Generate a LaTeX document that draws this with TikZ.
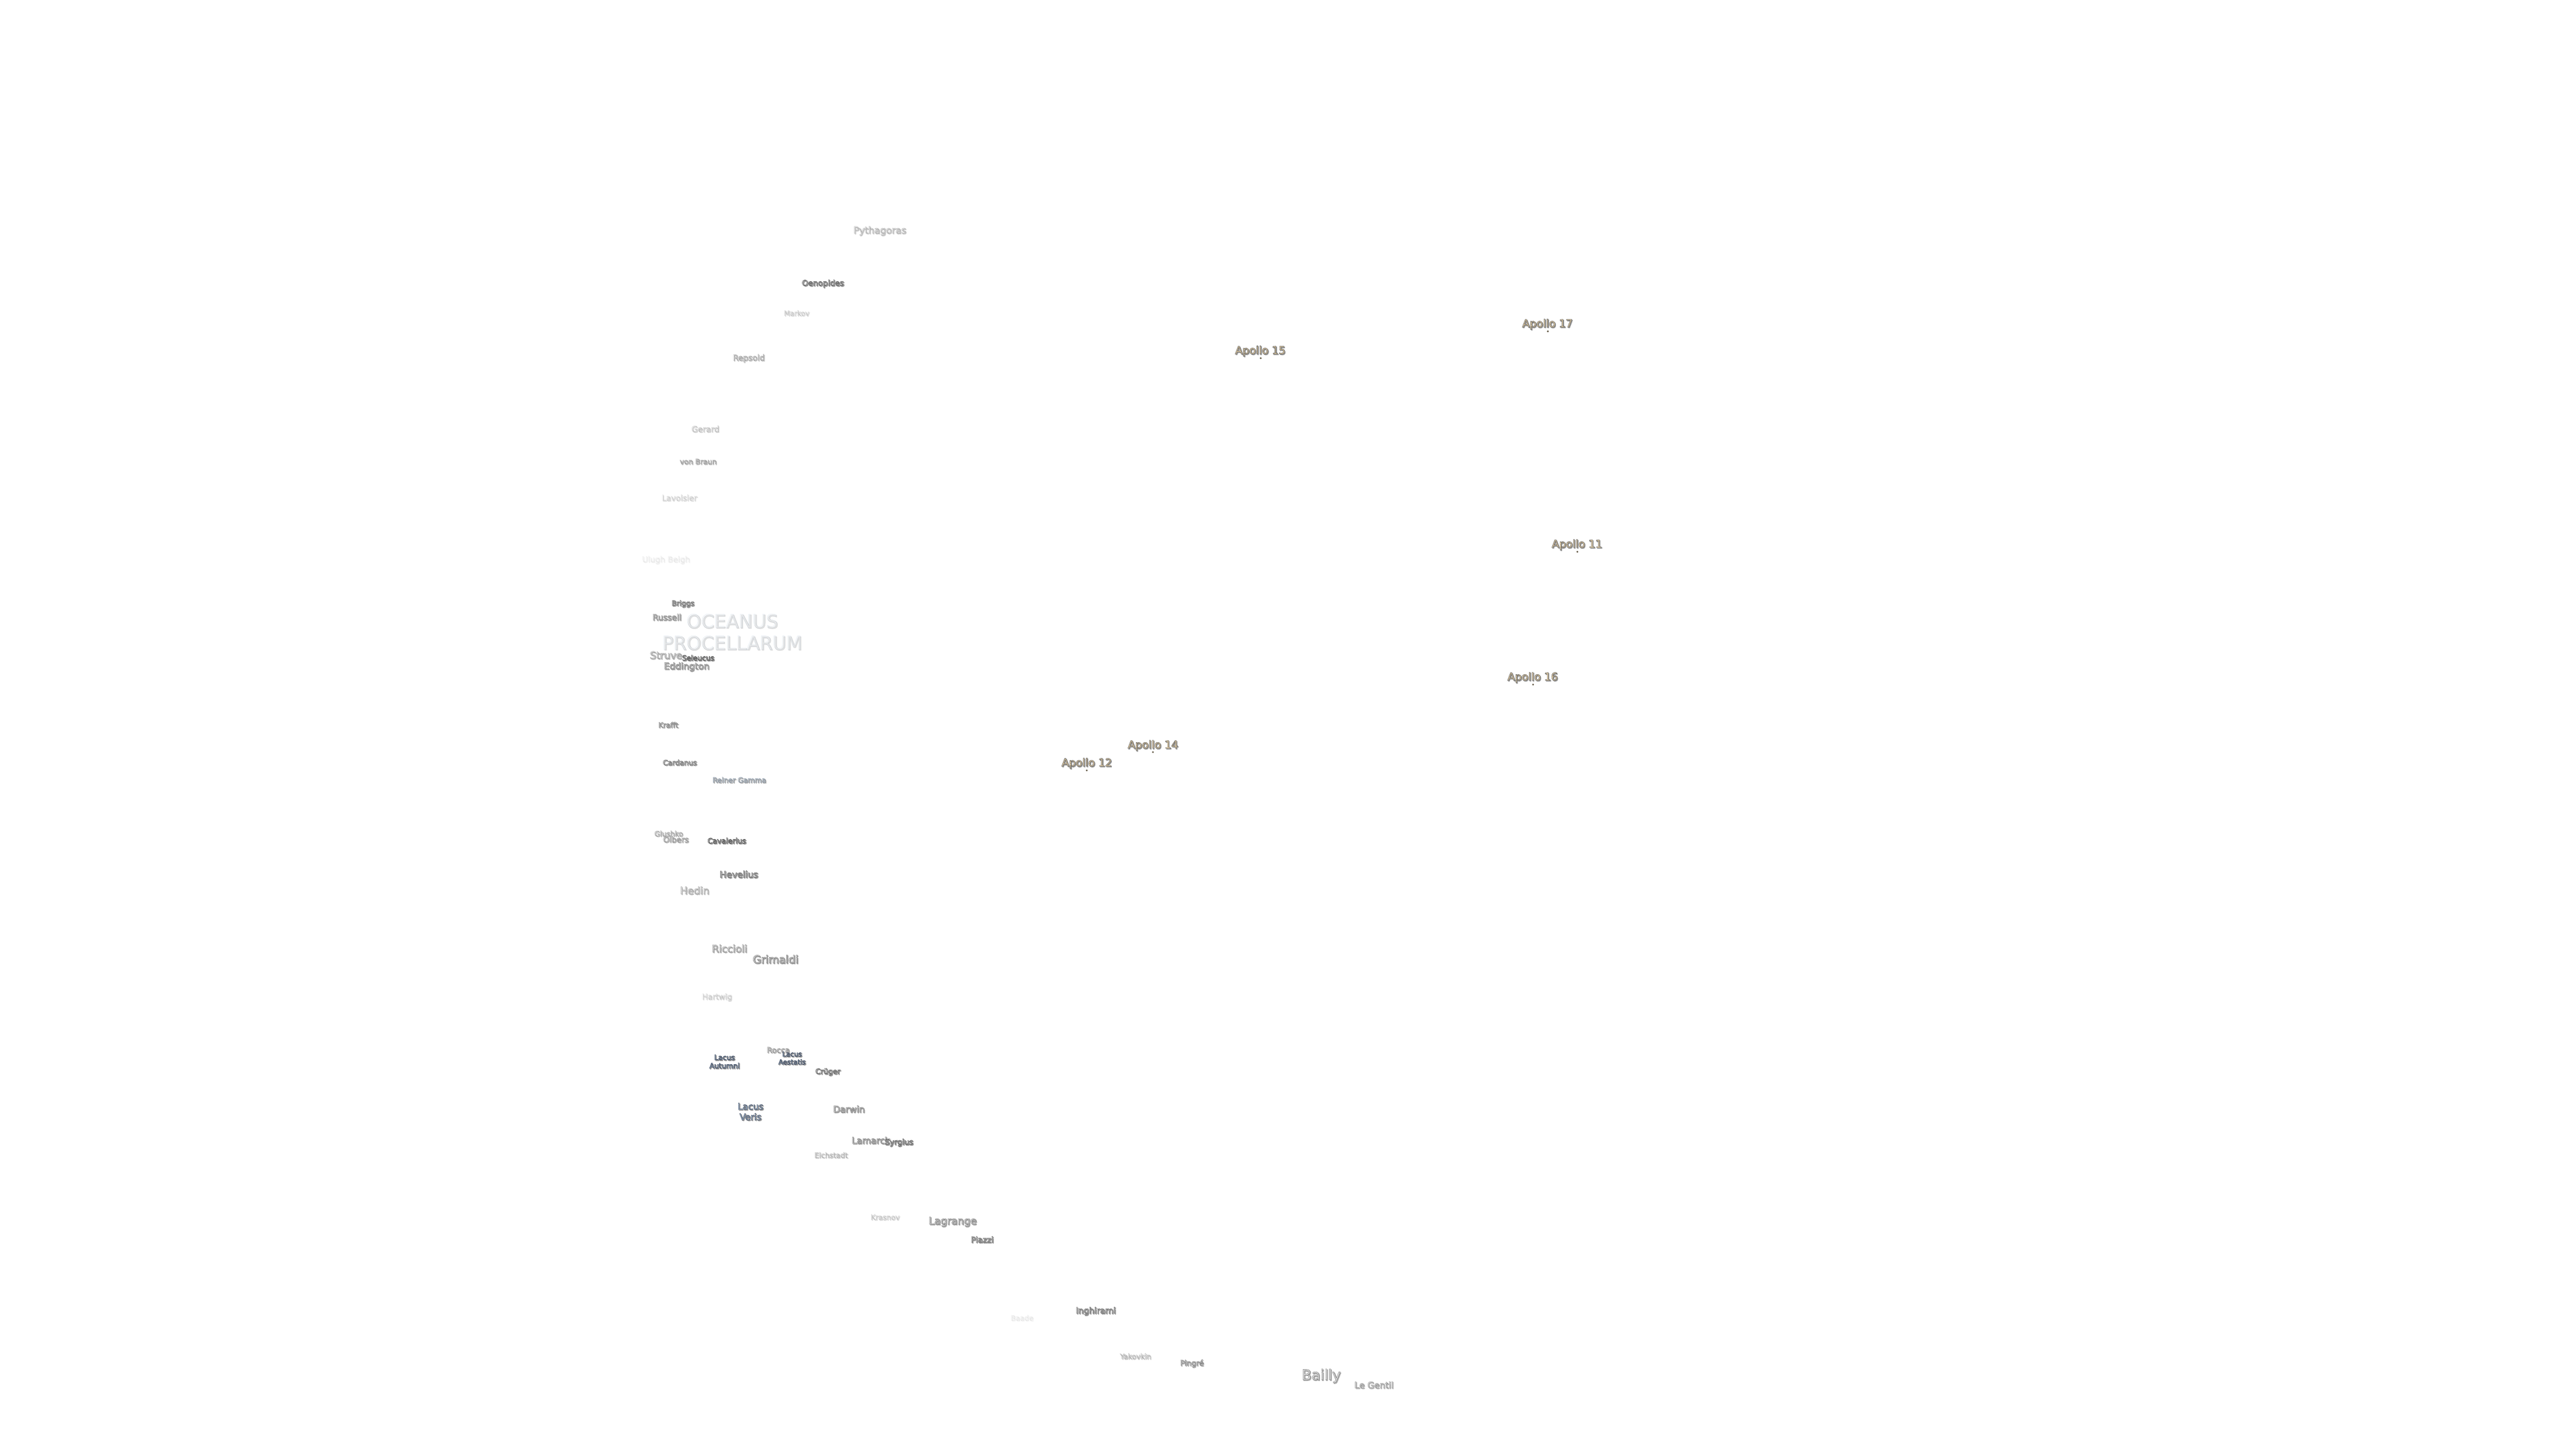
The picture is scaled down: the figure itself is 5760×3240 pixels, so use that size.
\documentclass[tikz,border=0pt]{standalone}
\usepackage{fontspec}
\setmainfont{DejaVu Sans}
\definecolor{craterfill}{RGB}{240,240,240}
\definecolor{lakefill}{RGB}{190,215,240}
\definecolor{sitefill}{RGB}{250,224,176}
\definecolor{marefill}{RGB}{246,248,250}
\definecolor{shadowgray}{RGB}{150,150,150}
% text with a dark edge and a soft offset copy
\newcommand{\relief}[2][0.35 0.35 0.35]{\leavevmode\rlap{\kern0.45pt\raisebox{-0.45pt}{\special{pdf:code 2 Tr 0.28 w 0.65 0.65 0.65 RG}\textcolor{shadowgray}{#2}\special{pdf:code 0 Tr}}}\special{pdf:code 2 Tr 0.2 w #1 RG}#2\special{pdf:code 0 Tr}}
\tikzset{
  fs/.style={font=\fontsize{#1pt}{1.17\dimexpr#1pt\relax}\selectfont},
  crater/.style={inner sep=0pt,align=center,text=craterfill},
  lake/.style={crater,text=lakefill},
  apollosite/.style={crater,text=sitefill,fs=6},
  mare/.style={crater,text=marefill,fs=10.4},
  sitedot/.style={circle,inner sep=0pt,minimum size=1.1pt,fill=black!60!sitefill},
}
\begin{document}
\begin{tikzpicture}[x=0.25pt,y=0.25pt,yscale=-1,xscale=1]
\useasboundingbox (0,0) rectangle (5760,3240);

% Mare
\node (procellarum) [mare,opacity=0.25] at (1637,1414) {\relief[0.6 0.7 0.8]{OCEANUS}\\\relief[0.6 0.7 0.8]{PROCELLARUM}};

% Apollo sites
\node (apollo17) [apollosite] at (3460,726) {\relief{Apollo 17}};
\node (site17) [sitedot] at (3461,741) {};
\node (apollo15) [apollosite] at (2818,786) {\relief{Apollo 15}};
\node (site15) [sitedot] at (2819,801) {};
\node (apollo11) [apollosite] at (3526,1219) {\relief{Apollo 11}};
\node (site11) [sitedot] at (3527,1234) {};
\node (apollo16) [apollosite] at (3427,1516) {\relief{Apollo 16}};
\node (site16) [sitedot] at (3428,1531) {};
\node (apollo14) [apollosite] at (2578,1668) {\relief{Apollo 14}};
\node (site14) [sitedot] at (2578,1682) {};
\node (apollo12) [apollosite] at (2430,1708) {\relief{Apollo 12}};
\node (site12) [sitedot] at (2430,1723) {};

% Text Node
\node (pythagoras) [crater,fs=5.25,opacity=0.35] at (1967,517) {\relief{Pythagoras}};
\node (oenopides) [crater,fs=4.4,opacity=0.9] at (1840,635) {\relief{Oenopides}};
\node (markov) [crater,fs=3.9,opacity=0.2] at (1781,701) {\relief{Markov}};
\node (repsold) [crater,fs=4.5,opacity=0.4] at (1674,802) {\relief{Repsold}};
\node (gerard) [crater,fs=4.5,opacity=0.25] at (1577,960) {\relief{Gerard}};
\node (vonbraun) [crater,fs=4,opacity=0.45] at (1561,1033) {\relief{von Braun}};
\node (lavoisier) [crater,fs=4.4,opacity=0.18] at (1519,1114) {\relief{Lavoisier}};
\node (ulugh) [crater,fs=4.4,opacity=0.08] at (1489,1253) {\relief{Ulugh Beigh}};
\node (briggs) [crater,fs=4,opacity=0.75] at (1527,1351) {\relief{Briggs}};
\node (russell) [crater,fs=4.6,opacity=0.6] at (1491,1381) {\relief{Russell}};
\node (struve) [crater,fs=5.5,opacity=0.5] at (1489,1466) {\relief{Struve}};
\node (eddington) [crater,fs=5,opacity=0.7] at (1535,1492) {\relief{Eddington}};
\node (seleucus) [crater,fs=4,opacity=1] at (1561,1472) {\relief{Seleucus}};
\node (krafft) [crater,fs=4,opacity=0.6] at (1494,1622) {\relief{Krafft}};
\node (cardanus) [crater,fs=4,opacity=0.7] at (1520,1706) {\relief{Cardanus}};
\node (reiner) [crater,fs=4,opacity=0.6] at (1653,1745) {\relief[0.4 0.47 0.55]{Reiner Gamma}};
\node (glushko) [crater,fs=4,opacity=0.4] at (1495,1865) {\relief{Glushko}};
\node (olbers) [crater,fs=4.4,opacity=0.5] at (1511,1878) {\relief{Olbers}};
\node (cavalerius) [crater,fs=4.1,opacity=1] at (1625,1881) {\relief{Cavalerius}};
\node (hevelius) [crater,fs=5,opacity=0.9] at (1652,1956) {\relief{Hevelius}};
\node (hedin) [crater,fs=5.6,opacity=0.45] at (1553,1992) {\relief{Hedin}};
\node (riccioli) [crater,fs=5.6,opacity=0.55] at (1631,2122) {\relief{Riccioli}};
\node (grimaldi) [crater,fs=6,opacity=0.75] at (1734,2146) {\relief{Grimaldi}};
\node (hartwig) [crater,fs=4.3,opacity=0.2] at (1603,2231) {\relief{Hartwig}};
\node (rocca) [crater,fs=4.3,opacity=0.5] at (1740,2349) {\relief{Rocca}};
\node (aestatis) [lake,fs=3.8,opacity=0.95] at (1771,2367) {\relief[0.25 0.3 0.38]{Lacus}\\\relief[0.25 0.3 0.38]{Aestatis}};
\node (autumni) [lake,fs=4,opacity=0.95] at (1620,2375) {\relief[0.25 0.3 0.38]{Lacus}\\\relief[0.25 0.3 0.38]{Autumni}};
\node (cruger) [crater,fs=4.1,opacity=0.85] at (1851,2398) {\relief{Crüger}};
\node (veris) [lake,fs=5,opacity=0.95] at (1678,2487) {\relief[0.25 0.3 0.38]{Lacus}\\\relief[0.25 0.3 0.38]{Veris}};
\node (darwin) [crater,fs=5,opacity=0.7] at (1898,2481) {\relief{Darwin}};
\node (lamarck) [crater,fs=5,opacity=0.7] at (1947,2551) {\relief{Lamarck}};
\node (syrgius) [crater,fs=4.3,opacity=0.95] at (2010,2556) {\relief{Syrgius}};
\node (eichstadt) [crater,fs=4,opacity=0.3] at (1858,2584) {\relief{Eichstadt}};
\node (krasnov) [crater,fs=4,opacity=0.22] at (1979,2723) {\relief{Krasnov}};
\node (lagrange) [crater,fs=5.7,opacity=0.7] at (2130,2733) {\relief{Lagrange}};
\node (piazzi) [crater,fs=4.5,opacity=0.85] at (2196,2773) {\relief{Piazzi}};
\node (inghirami) [crater,fs=4.7,opacity=0.85] at (2450,2933) {\relief{Inghirami}};
\node (baade) [crater,fs=4,opacity=0.08] at (2285,2948) {\relief{Baade}};
\node (yakovkin) [crater,fs=4,opacity=0.3] at (2539,3034) {\relief{Yakovkin}};
\node (pingre) [crater,fs=4.2,opacity=0.6] at (2665,3050) {\relief{Pingré}};
\node (bailly) [crater,fs=8,opacity=0.7] at (2954,3078) {\relief{Bailly}};
\node (legentil) [crater,fs=4.9,opacity=0.5] at (3072,3098) {\relief{Le Gentil}};
\end{tikzpicture}
\end{document}
